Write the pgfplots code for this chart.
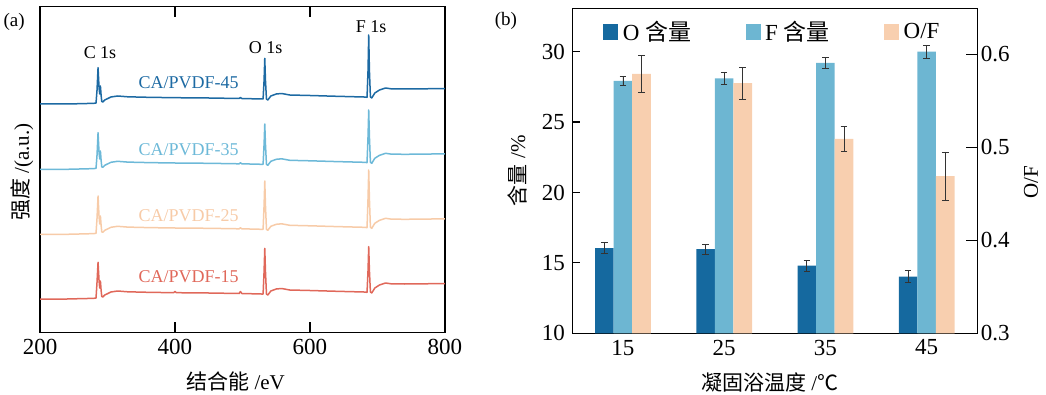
\documentclass[border=0pt]{standalone}
\usepackage{pgfplots}
\pgfplotsset{compat=1.18}
\usepackage{fontspec}
\setmainfont{Liberation Serif}
\newfontfamily\cjk{Noto Sans CJK SC}
\definecolor{cA}{HTML}{1D6AA3}
\definecolor{cB}{HTML}{6DB9D8}
\definecolor{cC}{HTML}{F7CBA8}
\definecolor{cD}{HTML}{E0685A}
\definecolor{bO}{HTML}{15699F}
\definecolor{bF}{HTML}{6DB6D2}
\definecolor{bR}{HTML}{F8CFAF}
\begin{document}
\begin{tikzpicture}
\useasboundingbox (0,0) rectangle (1046pt,395pt);
% ---------------- panel (a) ----------------
\begin{axis}[
  at={(40pt,62.7pt)}, anchor=south west,
  scale only axis, width=405pt, height=325.6pt,
  xmin=200, xmax=800, ymin=6.7, ymax=332.3, y dir=reverse,
  xtick={200,400,600,800}, ytick=\empty,
  tick align=inside, major tick length=10pt,
  axis line style={line width=1.4pt}, every tick/.style={black, line width=1.2pt},
  /pgf/number format/assume math mode=true,
  ticklabel style={font=\fontsize{23}{23}\selectfont},
  xticklabel style={yshift=-3pt},
  xlabel={{\cjk 结合能} /eV},
  xlabel style={at={(axis description cs:0.483,-0.152)}, anchor=center, font=\fontsize{21}{21}\selectfont},
  ylabel={{\cjk 强度} /(a.u.)},
  ylabel style={at={(axis description cs:-0.044,0.492)}, anchor=center, font=\fontsize{21}{21}\selectfont},
  clip mode=individual,
]
\addplot[cA, line width=1.5pt, line join=round] coordinates {
(200,104) (240,104) (270,103.5) (280,103.3) (283,103) (284.5,90) (286,67.7) (287.5,88) (288.5,94) (289.5,86) (290.5,95) (291.5,101.5) (293,102) (296,100) (305,97) (315,96) (330,96.8) (360,97.3) (400,97.7) (450,98) (495,98.5) (497,97.5) (499,98.5) (528,99) (530.5,99) (532,80) (533,58.3) (534,80) (535.5,99) (537.5,100) (542,96) (550,94) (558,93.5) (570,95) (600,95.5) (640,96.3) (680,97) (684.5,97.3) (686,70) (687,35) (688,70) (689.5,97) (691.5,98) (696,93) (703,90) (712,88) (720,88.8) (740,89) (770,88.8) (800,88.5)};
\addplot[cB, line width=1.5pt, line join=round] coordinates {
(200,169.3) (240,169.3) (270,168.8) (280,168.6) (283,168.3) (284.5,155) (286,132.7) (287.5,153) (288.5,159) (289.5,151) (290.5,160) (291.5,166.8) (293,167.3) (296,165.3) (305,162.3) (315,161.3) (330,162.1) (360,162.6) (400,163) (450,163.3) (495,163.8) (497,162.8) (499,163.8) (528,164.3) (530.5,164.3) (532,144) (533,124) (534,144) (535.5,164.3) (537.5,165.3) (542,161.3) (550,159.3) (558,158.8) (570,160.3) (600,160.8) (640,161.6) (680,162.3) (684.5,162.6) (686,136) (687,110) (688,136) (689.5,162.3) (691.5,163.3) (696,158.3) (703,155.3) (712,153.3) (720,154.1) (740,154.3) (770,154.1) (800,153.8)};
\addplot[cC, line width=1.5pt, line join=round] coordinates {
(200,234.3) (240,234.3) (270,233.8) (280,233.6) (283,233.3) (284.5,218) (286,196) (287.5,217) (288.5,224) (289.5,216) (290.5,225) (291.5,231.8) (293,232.3) (296,230.3) (305,227.3) (315,226.3) (330,227.1) (360,227.6) (400,228) (450,228.3) (495,228.8) (497,227.8) (499,228.8) (528,229.3) (530.5,229.3) (532,205) (533,181) (534,205) (535.5,229.3) (537.5,230.3) (542,226.3) (550,224.3) (558,223.8) (570,225.3) (600,225.8) (640,226.6) (680,227.3) (684.5,227.6) (686,198) (687,170) (688,198) (689.5,227.3) (691.5,228.3) (696,223.3) (703,220.3) (712,218.3) (720,219.1) (740,219.3) (770,219.1) (800,218.8)};
\addplot[cD, line width=1.5pt, line join=round] coordinates {
(200,299) (240,299) (270,298.5) (280,298.3) (283,298) (284.5,282) (286,262.3) (287.5,281) (288.5,288) (289.5,281) (290.5,290) (291.5,296.5) (293,297) (296,295) (305,292) (315,291) (330,291.8) (360,292.3) (398,292.7) (400,291.5) (402,292.7) (450,293) (495,293.5) (497,291.5) (499,293.5) (528,294) (530.5,294) (532,271) (533,248.3) (534,271) (535.5,294) (537.5,295) (542,291) (550,289) (558,288.5) (570,290) (600,290.5) (640,291.3) (680,292) (684.5,292.3) (686,270) (687,246.7) (688,270) (689.5,292) (691.5,293) (696,288) (703,285) (712,283) (720,283.8) (740,284) (770,283.8) (800,283.5)};
\node[font=\fontsize{18}{18}\selectfont] at (axis cs:288.9,52.7) {C 1s};
\node[font=\fontsize{18}{18}\selectfont] at (axis cs:534.3,47.3) {O 1s};
\node[font=\fontsize{18}{18}\selectfont] at (axis cs:690.4,26.7) {F 1s};
\node[font=\fontsize{18}{18}\selectfont, text=cA] at (axis cs:420.2,82.7) {CA/PVDF-45};
\node[font=\fontsize{18}{18}\selectfont, text=cB] at (axis cs:420.2,150) {CA/PVDF-35};
\node[font=\fontsize{18}{18}\selectfont, text=cC] at (axis cs:420.2,216) {CA/PVDF-25};
\node[font=\fontsize{18}{18}\selectfont, text=cD] at (axis cs:420.2,276.7) {CA/PVDF-15};
\node[font=\fontsize{19}{19}\selectfont] at (axis description cs:-0.064,0.953) {(a)};
\end{axis}
% ---------------- panel (b) left ----------------
\begin{axis}[
  at={(572.3pt,61.7pt)}, anchor=south west,
  scale only axis, width=405pt, height=325pt,
  xmin=-0.5, xmax=3.5, ymin=10, ymax=33.08,
  ybar, bar width=18.6pt,
  xtick={0,1,2,3}, xticklabels={15,25,35,45},
  ytick={10,15,20,25,30}, ytick pos=left,
  major x tick style={draw=none},
  tick align=inside, major tick length=8pt,
  axis line style={line width=1.4pt}, every tick/.style={black, line width=1.2pt},
  /pgf/number format/assume math mode=true,
  ticklabel style={font=\fontsize{23}{23}\selectfont},
  xticklabel style={yshift=-3pt},
  yticklabel style={xshift=-4pt},
  xlabel={{\cjk 凝固浴温度} /{\cjk ℃}},
  xlabel style={at={(axis description cs:0.487,-0.15)}, anchor=center, font=\fontsize{21}{21}\selectfont},
  ylabel={{\cjk 含量} /\%},
  ylabel style={at={(axis description cs:-0.1365,0.5)}, anchor=center, font=\fontsize{21}{21}\selectfont},
  error bars/y dir=both, error bars/y explicit,
  error bars/error bar style={line width=0.8pt, color=black!80},
  error bars/error mark options={rotate=90, mark size=3.3pt, line width=0.8pt, color=black!80},
  clip mode=individual,
]
\addplot[fill=bO, draw=none, bar shift=-18.6pt] coordinates {(0,16.04) +- (0,0.40) (1,15.97) +- (0,0.36) (2,14.80) +- (0,0.40) (3,14.02) +- (0,0.43)};
\addplot[fill=bF, draw=none, bar shift=0pt] coordinates {(0,27.92) +- (0,0.33) (1,28.11) +- (0,0.45) (2,29.20) +- (0,0.40) (3,30.00) +- (0,0.47)};
\node[font=\fontsize{19}{19}\selectfont] at (axis description cs:-0.164,0.961) {(b)};
\end{axis}
% ---------------- panel (b) right ----------------
\begin{axis}[
  at={(572.3pt,61.7pt)}, anchor=south west,
  scale only axis, width=405pt, height=325pt,
  xmin=-0.5, xmax=3.5, ymin=0.3, ymax=0.6495,
  ybar, bar width=18.6pt,
  axis x line=none, axis y line*=right,
  ytick={0.3,0.4,0.5,0.6},
  yticklabel style={/pgf/number format/fixed, /pgf/number format/precision=1, /pgf/number format/fixed zerofill},
  tick align=inside, major tick length=11pt,
  axis line style={line width=1.4pt}, every tick/.style={black, line width=1.2pt},
  /pgf/number format/assume math mode=true,
  ticklabel style={font=\fontsize{23}{23}\selectfont},
  ylabel={O/F},
  ylabel style={at={(axis description cs:1.1326,0.466)}, anchor=center, font=\fontsize{21}{21}\selectfont},
  error bars/y dir=both, error bars/y explicit,
  error bars/error bar style={line width=0.8pt, color=black!80},
  error bars/error mark options={rotate=90, mark size=3.3pt, line width=0.8pt, color=black!80},
  legend image code/.code={\fill[#1] (0pt,-8pt) rectangle (15pt,8pt);},
  legend columns=3,
  legend style={draw=none, fill=none, at={(0.076,0.927)}, anchor=west,
    font=\fontsize{23}{23}\selectfont, inner sep=0pt,
    nodes={inner xsep=4.5pt},
    /tikz/every even column/.append style={column sep=50pt}},
]
\addlegendimage{fill=bO, draw=none}
\addlegendentry{O {\cjk 含量}}
\addlegendimage{fill=bF, draw=none}
\addlegendentry{F {\cjk 含量}}
\addplot[fill=bR, draw=none, bar shift=18.6pt] coordinates {(0,0.579) +- (0,0.020) (1,0.569) +- (0,0.017) (2,0.509) +- (0,0.013) (3,0.469) +- (0,0.026)};
\addlegendentry{O/F}
\end{axis}
\end{tikzpicture}
\end{document}
